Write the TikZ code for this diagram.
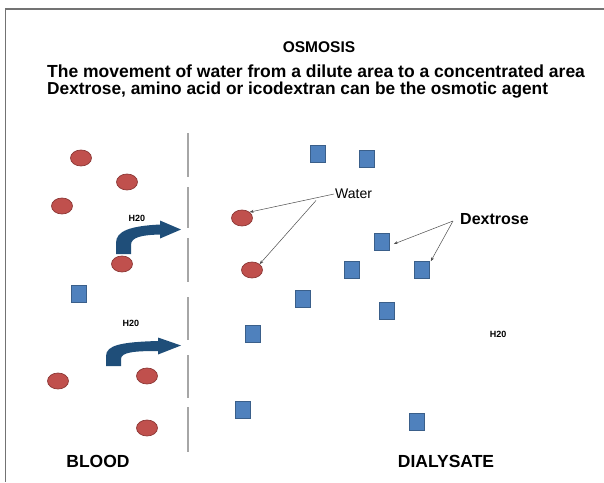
\documentclass[tikz,border=0pt]{standalone}
\usepackage{fontspec}
\setmainfont{Liberation Sans}
\usetikzlibrary{shapes.geometric,arrows.meta}
\definecolor{cellred}{HTML}{C0504D}
\definecolor{cellrim}{HTML}{8C3836}
\definecolor{sugarblue}{HTML}{4F81BD}
\definecolor{sugarrim}{HTML}{3A5F8A}
\definecolor{flowblue}{HTML}{1F4E79}

\begin{document}
\begin{tikzpicture}[x=1pt, y=-1pt,
	cell/.style={ellipse, draw=cellrim, fill=cellred, line width=0.7pt, minimum width=21pt, minimum height=16pt, inner sep=0pt},
	sugar/.style={rectangle, draw=sugarrim, fill=sugarblue, line width=0.6pt, minimum width=15pt, minimum height=17pt, inner sep=0pt},
	pointer/.style={draw=black!70, line width=0.5pt, -{Stealth[length=4pt, width=3pt]}},
	flow/.style={fill=flowblue},
	water/.style={font=\bfseries\fontsize{9}{10}\selectfont}]
	\useasboundingbox (0,0) rectangle (604,482);
	\draw[black!55, line width=1.2pt] (604,9) -- (5.5,9) -- (5.5,482);
	% heading
	\node (title) at (319,47) {\bfseries\fontsize{15.5}{18}\selectfont OSMOSIS};
	\node[anchor=west, inner sep=0pt] (line1) at (47,71) {\bfseries\fontsize{17.5}{20}\selectfont The movement of water from a dilute area to a concentrated area};
	\node[anchor=west, inner sep=0pt] (line2) at (47,90) {\bfseries\fontsize{17.3}{20}\selectfont Dextrose, amino acid or icodextran can be the osmotic agent};
	% membrane
	\foreach \a/\b in {133/177, 187/228, 238/282, 297/340, 355/398, 407/452} {
		\draw[black!35, line width=1.3pt] (188,\a) -- (188,\b);
	}
	% water molecules
	\foreach \x/\y [count=\i] in {81/158, 127/182, 62/206, 242/218, 122/264, 252/270, 58/381, 147/376, 147/428} {
		\node[cell] (c\i) at (\x,\y) {};
	}
	% dextrose
	\foreach \x/\y [count=\i] in {318/154, 367/159, 382/242, 352/270, 422/270, 303/299, 387/311, 253/334, 243/410, 417/422, 79/294} {
		\node[sugar] (s\i) at (\x,\y) {};
	}
	% flow arrows
	\fill[flow] (116,254) -- (116,243) .. controls (116,231) and (130,226) .. (160,224.5) -- (160,220.5) -- (181,229.5) -- (160,238.5) -- (160,234.5) .. controls (142,235) and (131,237) .. (131,245) -- (131,254) -- cycle;
	\fill[flow] (106,366) -- (106,356) .. controls (106,345) and (122,342) .. (158,341) -- (158,337.5) -- (181,345.5) -- (158,354.5) -- (158,351) .. controls (135,351) and (121,352) .. (121,359) -- (121,366) -- cycle;
	\node[water] (h1) at (137,218) {H20};
	\node[water] (h2) at (131,323) {H20};
	\node[water] (h3) at (498,334) {H20};
	% labels
	\node[anchor=west, inner sep=1pt, font=\fontsize{14}{16}\selectfont] (wlabel) at (334,194) {Water};
	\coordinate (wsplit) at (316,200.5);
	\draw[pointer] (wlabel.west) -- (c4.north east);
	\draw[pointer] (wsplit) -- (c6.north east);
	\node[anchor=west, inner sep=0pt, font=\bfseries\fontsize{16}{19}\selectfont] (dlabel) at (460,219) {Dextrose};
	\coordinate (dsplit) at (453,221);
	\draw[pointer] (dsplit) -- ([xshift=4pt, yshift=-2pt]s3.east);
	\draw[pointer] (dsplit) -- ([xshift=1pt]s5.north east);
	\node[font=\bfseries\fontsize{17.5}{20}\selectfont] (blood) at (98,461) {BLOOD};
	\node[font=\bfseries\fontsize{17.5}{20}\selectfont] (dialysate) at (446,461) {DIALYSATE};
\end{tikzpicture}
\end{document}
